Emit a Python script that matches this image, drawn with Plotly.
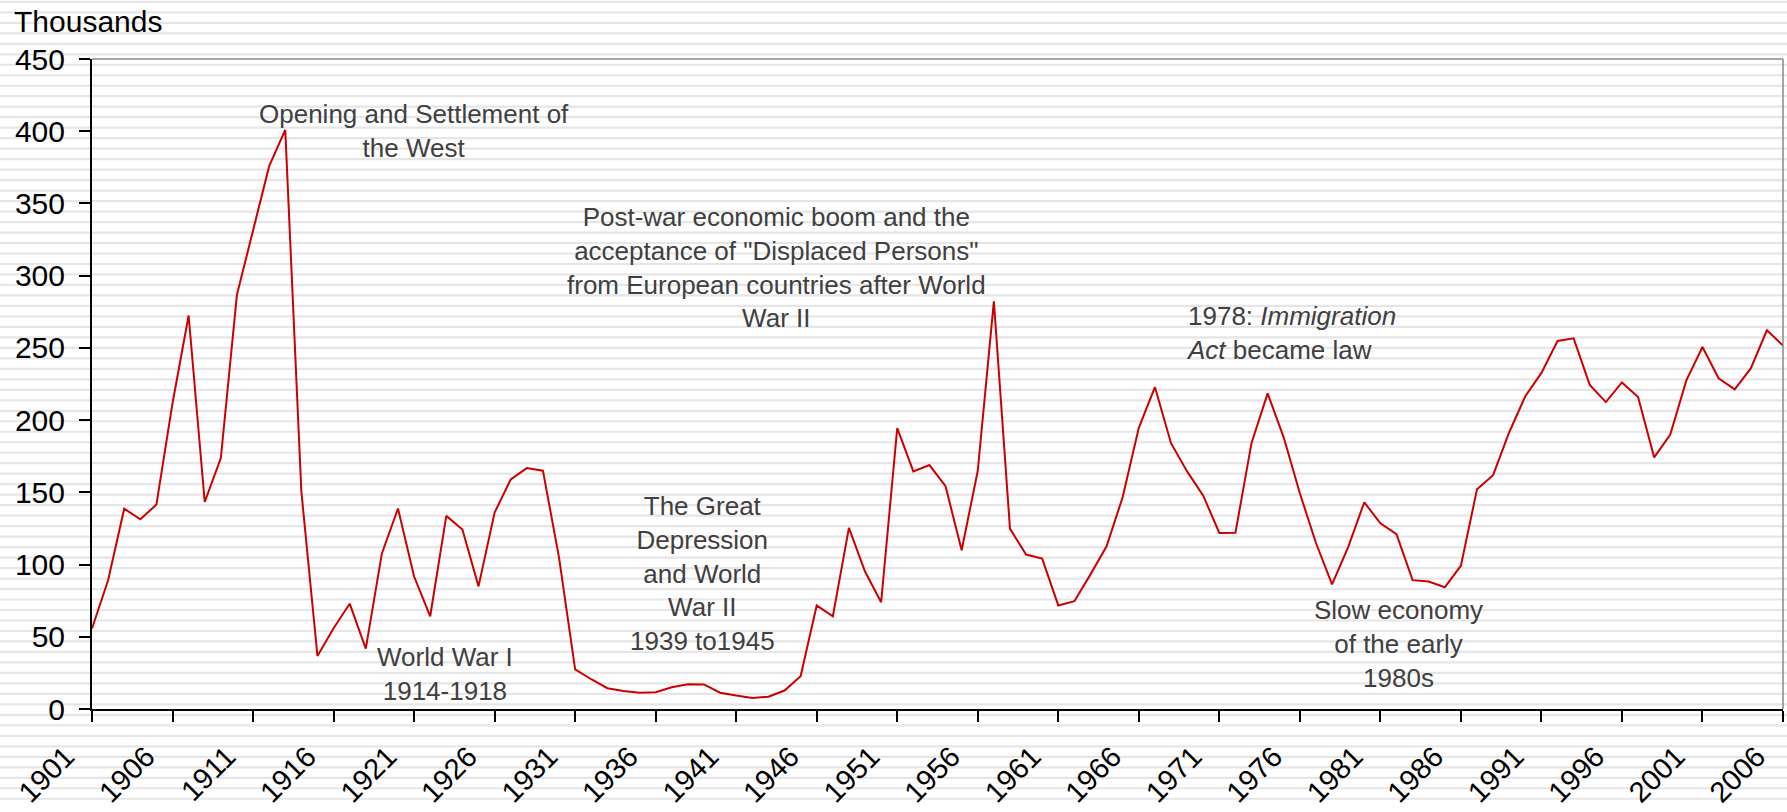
import plotly.graph_objects as go

# Immigrants per year, in thousands
years = list(range(1901, 2007))
immigrants = [
    55.7, 89.1, 138.7, 131.3, 141.5, 211.7, 272.4, 143.3, 173.7, 286.8,
    331.3, 375.8, 400.9, 150.5, 36.7, 55.9, 72.9, 41.8, 107.7, 138.8,
    91.7, 64.2, 133.7, 124.2, 84.9, 136.0, 158.9, 166.8, 165.0, 104.8,
    27.5, 20.6, 14.4, 12.5, 11.3, 11.6, 15.1, 17.2, 17.0, 11.3,
    9.3, 7.6, 8.5, 12.8, 22.7, 71.7, 64.1, 125.4, 95.2, 73.9,
    194.4, 164.5, 168.9, 154.2, 109.9, 164.9, 282.2, 124.9, 106.9, 104.1,
    71.7, 74.6, 93.2, 112.6, 146.8, 194.7, 222.9, 184.0, 164.5, 147.7,
    121.9, 122.0, 184.2, 218.5, 187.9, 149.4, 114.9, 86.3, 112.1, 143.1,
    128.6, 121.1, 89.2, 88.2, 84.3, 99.2, 152.1, 161.9, 191.6, 216.5,
    232.7, 254.8, 256.6, 224.4, 212.5, 226.1, 216.0, 174.2, 190.0, 227.5,
    250.6, 229.0, 221.3, 235.8, 262.2, 251.6,
]
tick_years = list(range(1901, 2007, 5))
y_ticks = list(range(0, 451, 50))

# (text, x year, y value, align)
notes = [
    ("Opening and Settlement of<br>the West", 1921.0, 400, "center"),
    ("World War I<br>1914-1918", 1922.9, 24, "center"),
    ("The Great<br>Depression<br>and World<br>War II<br>1939 to1945", 1938.9, 93.5, "center"),
    ("Post-war economic boom and the<br>acceptance of \"Displaced Persons\"<br>"
     "from European countries after World<br>War II", 1943.5, 306, "center"),
    ("1978: <i>Immigration</i><br><i>Act</i> became law", 1968.8, 260.5, "left"),
    ("Slow economy<br>of the early<br>1980s", 1982.1, 45.3, "center"),
]

FONT = "Arial, Liberation Sans, sans-serif"

fig = go.Figure()
fig.add_trace(go.Scatter(x=years, y=immigrants, mode="lines",
                         line=dict(color="#cc0000", width=2), showlegend=False))

# striped background, drawn over the whole page
l, r, t, b, W, H = 92, 4, 59, 99, 1787, 812
pw, ph = W - l - r, H - t - b
stripes = []
ypx = 1.5
while ypx < H:
    yp = (H - b - ypx) / ph
    stripes.append(dict(type="line", xref="paper", yref="paper",
                        x0=-l / pw, x1=(W - l) / pw, y0=yp, y1=yp,
                        line=dict(color="#e6e6e6", width=2.2), layer="below"))
    ypx += 10.55
# grey frame on top and right
stripes.append(dict(type="line", xref="paper", yref="paper", x0=0, x1=1, y0=1, y1=1,
                    line=dict(color="#888888", width=1.5)))
stripes.append(dict(type="line", xref="paper", yref="paper", x0=1, x1=1, y0=0, y1=1,
                    line=dict(color="#888888", width=1.5)))

for text, x, y, align in notes:
    fig.add_annotation(text=text, x=x, y=y, xref="x", yref="y", showarrow=False,
                       align=align, xanchor="left" if align == "left" else "center",
                       yanchor="middle", font=dict(family=FONT, size=26, color="#404040"))

fig.add_annotation(text="Thousands", xref="paper", yref="paper", x=(12 - l) / pw,
                   y=(H - b - 21) / ph, xanchor="left", yanchor="middle",
                   showarrow=False, font=dict(family=FONT, size=30, color="black"))

fig.update_layout(
    width=W, height=H,
    margin=dict(l=l, r=r, t=t, b=b, pad=0),
    paper_bgcolor="white", plot_bgcolor="rgba(0,0,0,0)",
    shapes=stripes,
    font=dict(family=FONT, size=29, color="black"),
    xaxis=dict(range=[1901, 2006], tickvals=tick_years, tickangle=-45,
               showgrid=False, zeroline=False, showline=True, linecolor="black",
               linewidth=2, ticks="outside", ticklen=11, tickwidth=2, tickcolor="black",
               ticklabelshift=-26, ticklabelstandoff=6),
    yaxis=dict(range=[0, 450], tickvals=y_ticks, showgrid=False, zeroline=False,
               showline=True, linecolor="black", linewidth=2, ticks="outside",
               ticklen=11, tickwidth=2, tickcolor="black", ticklabelstandoff=8,
               tickfont=dict(size=30)),
)

fig.write_html("out.html", config={"displayModeBar": False},
               post_script="document.body.style.margin='0';")
